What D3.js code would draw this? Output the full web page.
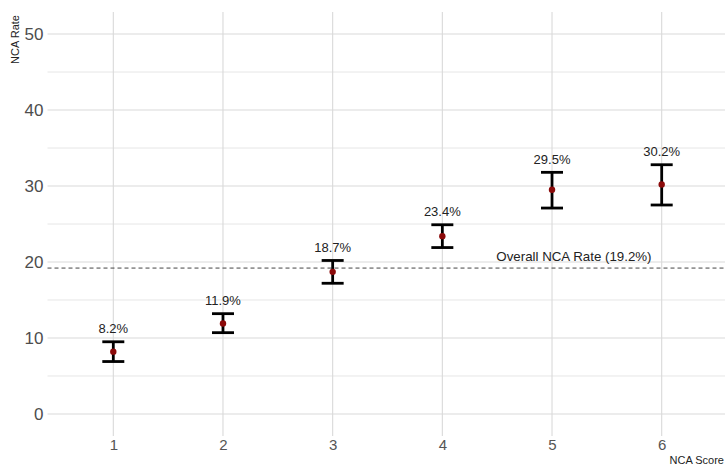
<!DOCTYPE html>
<html>
<head>
<meta charset="utf-8">
<script src="https://cdn.jsdelivr.net/npm/d3@7"></script>
<style>
  html, body { margin: 0; padding: 0; background: #fff; }
  svg { display: block; font-family: "Liberation Sans", Arial, sans-serif; }
</style>
</head>
<body>
<svg id="chart" width="725" height="465"></svg>
<script>
// NCA rate by score, with 95% confidence intervals
const scores = [1, 2, 3, 4, 5, 6];
const rates = [8.2, 11.9, 18.7, 23.4, 29.5, 30.2];
const lower = [6.9, 10.7, 17.2, 21.9, 27.1, 27.5];
const upper = [9.5, 13.2, 20.2, 24.9, 31.8, 32.8];
const overallRate = 19.2;
const yTicks = [0, 10, 20, 30, 40, 50];
const yMinor = [5, 15, 25, 35, 45];

const svg = d3.select("#chart");
const W = 725, H = 465;
svg.append("rect").attr("width", W).attr("height", H).attr("fill", "#fff");

const panel = { left: 47.5, right: 727.5, top: 12, bottom: 436 };

const x = d3.scalePoint()
  .domain(scores)
  .range([panel.left, panel.right])
  .padding(0.6);

const y = d3.scaleLinear()
  .domain([-2.9, 52.9])
  .range([panel.bottom, panel.top]);

// grid
const grid = svg.append("g");
grid.selectAll("line.minor").data(yMinor).enter().append("line")
  .attr("x1", panel.left).attr("x2", panel.right)
  .attr("y1", d => y(d)).attr("y2", d => y(d))
  .attr("stroke", "#e6e6e6").attr("stroke-width", 1);
grid.selectAll("line.major").data(yTicks).enter().append("line")
  .attr("x1", panel.left).attr("x2", panel.right)
  .attr("y1", d => y(d)).attr("y2", d => y(d))
  .attr("stroke", "#d9d9d9").attr("stroke-width", 1.1);
grid.selectAll("line.vert").data(scores).enter().append("line")
  .attr("x1", d => x(d)).attr("x2", d => x(d))
  .attr("y1", panel.top).attr("y2", panel.bottom)
  .attr("stroke", "#d9d9d9").attr("stroke-width", 1.1);

// axes (text only, no domain lines)
const yAxis = svg.append("g")
  .attr("transform", `translate(${panel.left - 4},0)`)
  .call(d3.axisLeft(y).tickValues(yTicks).tickSize(0).tickPadding(0).tickFormat(d3.format("d")));
yAxis.select(".domain").remove();
yAxis.selectAll("text")
  .attr("fill", "#4d4d4d").style("font-size", "17px")
  .style("font-family", "Liberation Sans, Arial, sans-serif");

const xAxis = svg.append("g")
  .attr("transform", `translate(0,${panel.bottom})`)
  .call(d3.axisBottom(x).tickSize(0).tickPadding(3));
xAxis.select(".domain").remove();
xAxis.selectAll("text")
  .attr("fill", "#555").style("font-size", "15px")
  .style("font-family", "Liberation Sans, Arial, sans-serif");

// axis titles
svg.append("text")
  .attr("transform", "translate(19,15) rotate(-90)")
  .attr("text-anchor", "end")
  .style("font-size", "11px").attr("fill", "#222")
  .text("NCA Rate");
svg.append("text")
  .attr("x", 724).attr("y", 464)
  .attr("text-anchor", "end")
  .style("font-size", "11px").attr("fill", "#222")
  .text("NCA Score");

// overall reference line
svg.append("line")
  .attr("x1", panel.left).attr("x2", panel.right)
  .attr("y1", y(overallRate)).attr("y2", y(overallRate))
  .attr("stroke", "#444").attr("stroke-width", 1)
  .attr("stroke-dasharray", "4,3");
svg.append("text")
  .attr("x", x(5) + 0.2 * x.step()).attr("y", y(overallRate) - 7.5)
  .attr("text-anchor", "middle")
  .style("font-size", "13.3px").attr("fill", "#222")
  .text(`Overall NCA Rate (${overallRate}%)`);

// error bars
const data = scores.map((s, i) => ({ s, rate: rates[i], lo: lower[i], hi: upper[i] }));
const capHalf = 11;
const eb = svg.append("g").attr("stroke", "#000").attr("stroke-width", 2.8).attr("fill", "none");
eb.selectAll("line.v").data(data).enter().append("line")
  .attr("x1", d => x(d.s)).attr("x2", d => x(d.s))
  .attr("y1", d => y(d.lo)).attr("y2", d => y(d.hi));
eb.selectAll("line.t").data(data).enter().append("line")
  .attr("x1", d => x(d.s) - capHalf).attr("x2", d => x(d.s) + capHalf)
  .attr("y1", d => y(d.hi)).attr("y2", d => y(d.hi));
eb.selectAll("line.b").data(data).enter().append("line")
  .attr("x1", d => x(d.s) - capHalf).attr("x2", d => x(d.s) + capHalf)
  .attr("y1", d => y(d.lo)).attr("y2", d => y(d.lo));

// points
svg.selectAll("circle.pt").data(data).enter().append("circle")
  .attr("cx", d => x(d.s)).attr("cy", d => y(d.rate))
  .attr("r", 3.2).attr("fill", "#8b0a0a");

// value labels
svg.selectAll("text.val").data(data).enter().append("text")
  .attr("x", d => x(d.s)).attr("y", d => y(d.hi) - 8.5)
  .attr("text-anchor", "middle")
  .style("font-size", "13px").attr("fill", "#222")
  .text(d => `${d.rate}%`);
</script>
</body>
</html>
